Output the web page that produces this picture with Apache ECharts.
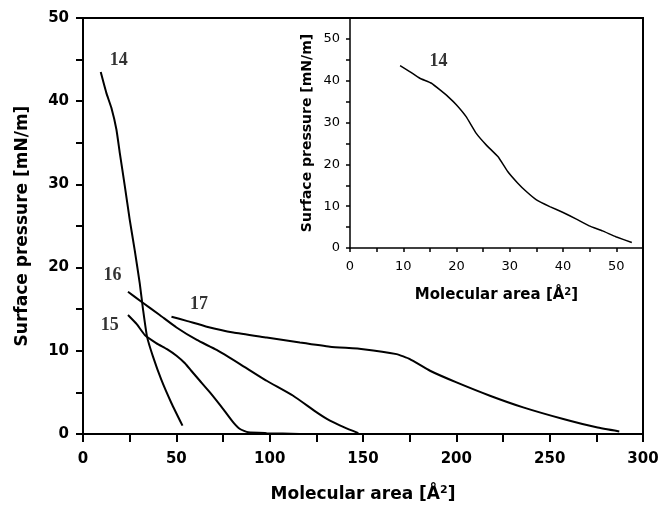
<!DOCTYPE html>
<html>
<head>
<meta charset="utf-8">
<script src="https://cdn.jsdelivr.net/npm/echarts@6/dist/echarts.min.js"></script>
<style>html,body{margin:0;padding:0;background:#fff}#c{width:661px;height:506px}</style>
</head>
<body>
<div id="c"></div>
<script>
// Main plot curves [area, pressure]
var c14x = [9.5, 12.5, 15.2, 17.9, 19.7, 22.4, 25, 27.7, 30.4, 32.2, 34.3, 37.5, 42, 47.4, 53.3];
var c14y = [43.5, 41.0, 39.2, 36.6, 33.8, 29.8, 25.8, 22.1, 18.1, 14.9, 11.7, 9.3, 6.5, 3.7, 1.0];
var c15x = [24.1, 28.8, 33.1, 39.4, 45, 50.1, 54.6, 58, 62.6, 68, 75.1, 80.5, 84.1, 88.5, 98.4, 116];
var c15y = [14.3, 13.2, 11.9, 10.9, 10.2, 9.4, 8.5, 7.6, 6.4, 5.0, 3.0, 1.4, 0.6, 0.2, 0.1, 0.0];
var c16x = [24.1, 31.3, 41.1, 50.1, 61, 71.6, 84.1, 98.4, 112.6, 125.2, 132.3, 140, 147.5];
var c16y = [17.1, 15.9, 14.3, 12.8, 11.3, 10.1, 8.4, 6.4, 4.6, 2.6, 1.6, 0.8, 0.1];
var c17x = [47.4, 55.5, 66.3, 80.5, 98.4, 116.2, 132.3, 150.1, 168, 175.1, 185.9, 200.1, 218, 235.8, 257.3, 275.1, 287.3];
var c17y = [14.1, 13.6, 12.9, 12.2, 11.6, 11.0, 10.5, 10.2, 9.6, 9.0, 7.6, 6.2, 4.6, 3.2, 1.8, 0.8, 0.3];
// Inset curve 14
var i14x = [9.4, 11.2, 13.1, 15.3, 16.9, 18.4, 20, 21.8, 23.7, 25.6, 27.8, 29.6, 31.5, 33.1, 35, 37.5, 40, 42.5, 44.9, 47.4, 49.9, 52.9];
var i14y = [43.6, 42.2, 40.6, 39.4, 37.8, 36.2, 34.2, 31.4, 27.4, 24.6, 21.8, 18.3, 15.5, 13.5, 11.5, 9.9, 8.5, 6.9, 5.3, 4.1, 2.7, 1.3];
// Curve labels
var lblText = ['14', '16', '15', '17'];
var lblX = [19.2, 15.8, 14.3, 62.1];
var lblY = [44.9, 19.1, 13.1, 15.6];
var insetLblText = ['14'];
var insetLblX = [16.6];
var insetLblY = [44.6];

function zip(xs, ys) { return xs.map(function (x, i) { return [x, ys[i]]; }); }
function lbls(t, xs, ys) { return t.map(function (s, i) { return { value: [xs[i], ys[i]], name: s }; }); }

var chart = echarts.init(document.getElementById('c'), null, { renderer: 'canvas' });
var black = '#000';
var mainLbl = { fontFamily: 'DejaVu Sans', fontWeight: 'bold', fontSize: 15, color: black };
var insetLbl = { fontFamily: 'DejaVu Sans', fontSize: 13, color: black };
function lineSeries(data, xi, w, sm) {
  return { type: 'line', xAxisIndex: xi, yAxisIndex: xi, data: data, showSymbol: false, symbol: 'none',
    smooth: sm, lineStyle: { color: black, width: w }, silent: true, animation: false, z: 3 };
}
function labelSeries(data, xi) {
  return { type: 'scatter', xAxisIndex: xi, yAxisIndex: xi, data: data, symbolSize: 0, silent: true, animation: false,
    label: { show: true, position: 'inside', formatter: function (p) { return p.name; },
      fontFamily: 'Liberation Serif', fontWeight: 'bold', fontSize: 18, color: black } };
}
var option = {
  backgroundColor: '#fff',
  animation: false,
  grid: [
    { left: 83, right: 18, top: 18, bottom: 72, show: true, borderColor: black, borderWidth: 2, backgroundColor: 'transparent', containLabel: false, outerBoundsMode: 'none' },
    { left: 350, right: 18, top: 18, bottom: 258, show: false, containLabel: false, outerBoundsMode: 'none' }
  ],
  xAxis: [
    { type: 'value', gridIndex: 0, min: 0, max: 300, interval: 25,
      name: 'Molecular area [Å{s|2}]', nameLocation: 'middle', nameGap: 51,
      nameTextStyle: { fontFamily: 'DejaVu Sans', fontWeight: 'bold', fontSize: 17, color: black,
        rich: { s: { fontFamily: 'DejaVu Sans', fontWeight: 'bold', fontSize: 11, verticalAlign: 'top', padding: [0, 0, 8, 0] } } },
      axisLine: { lineStyle: { color: black, width: 2 } },
      axisTick: { length: 8, lineStyle: { color: black, width: 2 } },
      axisLabel: Object.assign({ margin: 18, formatter: function (v) { return v % 50 === 0 ? v : ''; } }, mainLbl),
      splitLine: { show: false } },
    { type: 'value', gridIndex: 1, min: 0, max: 55, interval: 5,
      name: 'Molecular area [Å{s|2}]', nameLocation: 'middle', nameGap: 39,
      nameTextStyle: { fontFamily: 'DejaVu Sans', fontWeight: 'bold', fontSize: 15, color: black,
        rich: { s: { fontFamily: 'DejaVu Sans', fontWeight: 'bold', fontSize: 10, verticalAlign: 'top', padding: [0, 0, 7, 0] } } },
      axisLine: { lineStyle: { color: black, width: 1.5 } },
      axisTick: { length: 4, lineStyle: { color: black, width: 1.5 } },
      axisLabel: Object.assign({ margin: 12, formatter: function (v) { return v % 10 === 0 && v <= 50 ? v : ''; } }, insetLbl),
      splitLine: { show: false } }
  ],
  yAxis: [
    { type: 'value', gridIndex: 0, min: 0, max: 50, interval: 5,
      name: 'Surface pressure [mN/m]', nameLocation: 'middle', nameGap: 52,
      nameTextStyle: { fontFamily: 'DejaVu Sans', fontWeight: 'bold', fontSize: 17, color: black },
      axisLine: { lineStyle: { color: black, width: 2 } },
      axisTick: { length: 7, lineStyle: { color: black, width: 2 } },
      axisLabel: Object.assign({ margin: 14, formatter: function (v) { return v % 10 === 0 ? v : ''; } }, mainLbl),
      splitLine: { show: false } },
    { type: 'value', gridIndex: 1, min: 0, max: 55, interval: 5,
      name: 'Surface pressure [mN/m]', nameLocation: 'middle', nameGap: 36,
      nameTextStyle: { fontFamily: 'DejaVu Sans', fontWeight: 'bold', fontSize: 14, color: black },
      axisLine: { lineStyle: { color: black, width: 1.5 } },
      axisTick: { length: 4, lineStyle: { color: black, width: 1.5 } },
      axisLabel: Object.assign({ margin: 10, formatter: function (v) { return v % 10 === 0 && v <= 50 ? v : ''; } }, insetLbl),
      splitLine: { show: false } }
  ],
  series: [
    lineSeries(zip(c14x, c14y), 0, 2, 0.15),
    lineSeries(zip(c15x, c15y), 0, 2, 0.15),
    lineSeries(zip(c16x, c16y), 0, 2, 0.15),
    lineSeries(zip(c17x, c17y), 0, 2, 0.15),
    lineSeries(zip(i14x, i14y), 1, 1.5, 0.1),
    labelSeries(lbls(lblText, lblX, lblY), 0),
    labelSeries(lbls(insetLblText, insetLblX, insetLblY), 1)
  ]
};
chart.setOption(option);
</script>
</body>
</html>
